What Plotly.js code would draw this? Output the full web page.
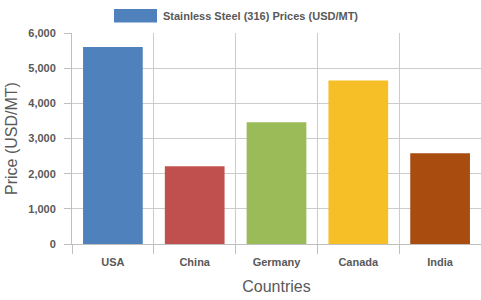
<!DOCTYPE html>
<html>
<head>
<meta charset="utf-8">
<script src="https://cdn.plot.ly/plotly-3.0.1.min.js"></script>
<style>html,body{margin:0;padding:0;background:#fff;}#chart{width:481px;height:300px;}</style>
</head>
<body>
<div id="chart"></div>
<script>
const countries = ["USA", "China", "Germany", "Canada", "India"];
const prices = [5600, 2210, 3460, 4650, 2580];
const barColors = ["#4f81bd", "#c0504d", "#9bbb59", "#f6be27", "#a84c10"];
const seriesName = "Stainless Steel (316) Prices (USD/MT)";
const yTickValues = [0, 1000, 2000, 3000, 4000, 5000, 6000];

const axisGray = "#bfbfbf";
const gridGray = "#cccccc";
const textGray = "#595959";
const fontFam = "Liberation Sans, Arial, sans-serif";

const trace = {
  type: "bar",
  x: countries,
  y: prices,
  name: seriesName,
  marker: { color: barColors },
  showlegend: false,
  hoverinfo: "x+y"
};

const layout = {
  width: 481,
  height: 300,
  margin: { l: 72, r: 0, t: 33, b: 56 },
  paper_bgcolor: "#ffffff",
  plot_bgcolor: "#ffffff",
  bargap: 0.27,
  font: { family: fontFam, color: textGray },
  xaxis: {
    type: "category",
    tickson: "boundaries",
    showgrid: true,
    gridcolor: gridGray,
    gridwidth: 1,
    ticks: "outside",
    ticklen: 9,
    tickcolor: axisGray,
    ticklabelstandoff: 8,
    showline: true,
    linecolor: axisGray,
    linewidth: 1,
    tickfont: { family: fontFam, size: 11, color: textGray, weight: "bold" },
    title: { text: "Countries", font: { family: fontFam, size: 16, color: textGray }, standoff: 13 },
    fixedrange: true
  },
  yaxis: {
    range: [0, 6000],
    tickvals: yTickValues,
    tickformat: ",d",
    showgrid: true,
    gridcolor: gridGray,
    gridwidth: 1,
    zeroline: false,
    ticks: "outside",
    ticklen: 7,
    tickcolor: axisGray,
    ticklabelstandoff: 6,
    showline: true,
    linecolor: axisGray,
    linewidth: 1,
    tickfont: { family: fontFam, size: 11, color: textGray, weight: "bold" },
    title: { text: "Price (USD/MT)", font: { family: fontFam, size: 16, color: textGray }, standoff: 6 },
    fixedrange: true
  },
  shapes: [{
    type: "rect",
    xref: "paper", yref: "paper",
    x0: (114 - 72) / 409, x1: (157 - 72) / 409,
    y0: (244 - 22.5) / 211, y1: (244 - 9) / 211,
    fillcolor: barColors[0],
    line: { width: 0 }
  }],
  annotations: [{
    xref: "paper", yref: "paper",
    x: (161 - 72) / 409, y: (244 - 15.5) / 211,
    xanchor: "left", yanchor: "middle",
    showarrow: false,
    text: seriesName,
    font: { family: fontFam, size: 11, color: textGray, weight: "bold" }
  }]
};

Plotly.newPlot("chart", [trace], layout, { displayModeBar: false, staticPlot: true });
</script>
</body>
</html>
